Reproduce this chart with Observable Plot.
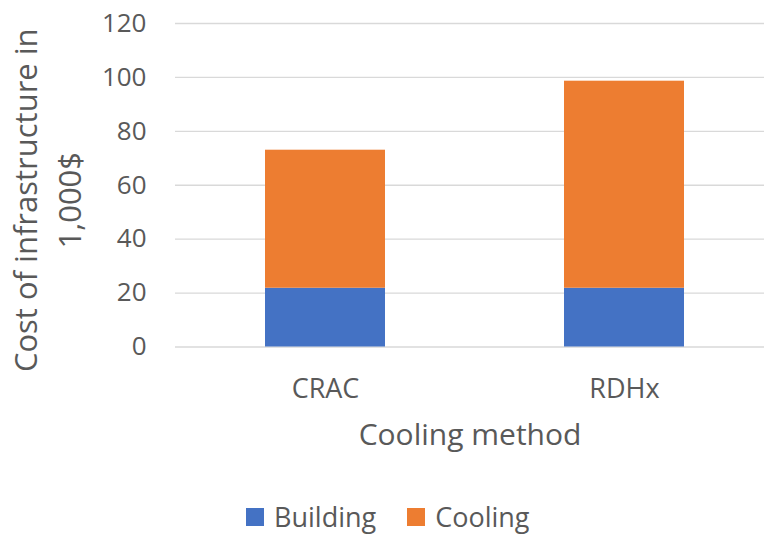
<!DOCTYPE html>
<html><head><meta charset="utf-8">
<script src="https://cdn.jsdelivr.net/npm/d3@7"></script>
<script src="https://cdn.jsdelivr.net/npm/@observablehq/plot@0.6"></script>
<style>
body{margin:0;background:#fff;}
#chart{position:relative;width:764px;height:536px;overflow:hidden;font-family:"Open Sans";background:#fff;}
#legend{position:absolute;left:0;top:498px;width:764px;height:34px;padding-left:246px;box-sizing:border-box;}
.lg-swatches{font-family:"Open Sans" !important;font-size:27px !important;color:#595959 !important;margin:0 !important;}
.lg-swatches-wrap{min-height:34px !important;}
.lg-swatch{margin-right:31px !important;}
.lg-swatch > svg{margin-right:10px !important;}
</style></head>
<body><div id="chart"><div id="plot"></div><div id="legend"></div></div>
<script>
const categories = ["CRAC", "RDHx"];
const series = ["Building", "Cooling"];
const building = [21.8, 21.8];
const cooling = [51.2, 76.8];
const yTicks = [0, 20, 40, 60, 80, 100, 120];
const colors = ["#4472C4", "#ED7D31"];
const xTitle = "Cooling method";
const yTitle = "Cost of infrastructure in\n1,000$";

const rows = [];
series.forEach((s, si) => {
  const vals = si === 0 ? building : cooling;
  categories.forEach((c, i) => rows.push({method: c, series: s, value: vals[i]}));
});

const plot = Plot.plot({
  width: 764, height: 490,
  marginTop: 23, marginBottom: 143.5, marginLeft: 175, marginRight: 0,
  style: {fontFamily: "Open Sans", fontSize: "26px", color: "#595959", background: "#fff", overflow: "visible"},
  x: {domain: categories, range: [175.5, 773.5], paddingInner: 0.599, paddingOuter: 0.2995},
  y: {domain: [0, 120], ticks: yTicks},
  color: {domain: series, range: colors},
  marks: [
    Plot.gridY(yTicks, {stroke: "#d9d9d9", strokeOpacity: 1, strokeWidth: 1.3}),
    Plot.barY(rows, {x: "method", y: "value", fill: "series"}),
    Plot.axisY(yTicks, {tickSize: 0, tickPadding: 29, label: null, fontSize: 26}),
    Plot.axisX({tickSize: 0, tickPadding: 32, label: null, fontSize: 27}),
    Plot.text([xTitle], {text: d => d, frameAnchor: "bottom", dy: 98, fontSize: 30}),
    Plot.text([yTitle], {text: d => d, frameAnchor: "left", textAnchor: "middle", rotate: -90, dx: -131, dy: 15, fontSize: 31, lineHeight: 1.42})
  ]
});
document.getElementById("plot").appendChild(plot);

const leg = Plot.legend({color: {type: "ordinal", domain: series, range: colors}, className: "lg", swatchSize: 18});
document.getElementById("legend").appendChild(leg);
</script>
</body></html>
